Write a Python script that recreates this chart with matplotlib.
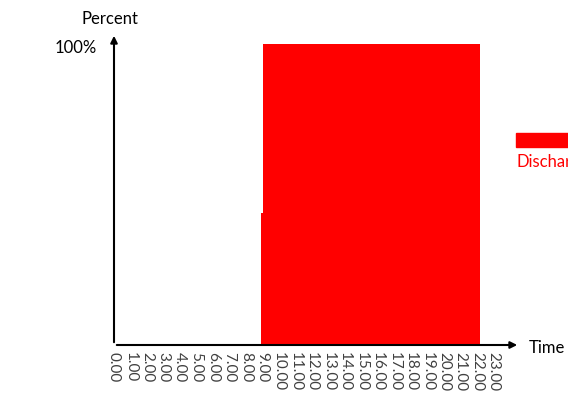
import matplotlib.pyplot as plt
from matplotlib.patches import Rectangle

plt.rcParams['font.family'] = ['Lato', 'DejaVu Sans']

# Discharge profile over the day (hour, percent)
hours = [0, 8.9, 8.9, 9.0, 9.0, 22.2, 22.2, 23.0]
discharge = [0, 0, 44, 44, 100, 100, 0, 0]
tick_hours = list(range(24))
tick_labels = [f"{h}.00" for h in tick_hours]

fig = plt.figure(figsize=(5.68, 3.94), dpi=100)
ax = fig.add_axes([114 / 568, 1 - 345 / 394, (520 - 114) / 568, (345 - 33) / 394])

ax.fill_between(hours, discharge, 0, color="#ff0000", linewidth=0, zorder=1)
ax.set_xlim(0, 24.6)
ax.set_ylim(0, 103.7)

for s in ax.spines.values():
    s.set_visible(False)

# axes drawn as arrows
ax.annotate("", xy=(1, 0), xytext=(0, 0), xycoords="axes fraction",
            arrowprops=dict(arrowstyle="-|>", color="black", lw=1.5, mutation_scale=10), zorder=3)
ax.annotate("", xy=(0, 1), xytext=(0, 0), xycoords="axes fraction",
            arrowprops=dict(arrowstyle="-|>", color="black", lw=1.5, mutation_scale=10), zorder=3)

ax.set_xticks(tick_hours)
ax.set_xticklabels(tick_labels, rotation=-90, fontsize=11, color="#404040")
ax.tick_params(axis="x", length=0, pad=5)
ax.set_yticks([])

fig.text(97 / 568, 1 - 48 / 394, "100%", ha="right", va="center", fontsize=12)
fig.text(110 / 568, 1 - 19 / 394, "Percent", ha="center", va="center", fontsize=12)
fig.text(529 / 568, 1 - 348 / 394, "Time", ha="left", va="center", fontsize=12)

# legend (cut off at the right edge, as in the source)
fig.patches.append(Rectangle((516 / 568, 1 - 147 / 394), 60 / 568, 14 / 394,
                             transform=fig.transFigure, color="#ff0000"))
fig.text(516 / 568, 1 - 162 / 394, "Discharge", ha="left", va="center", fontsize=12, color="#ff0000")

fig.savefig("out.png", dpi=100)
